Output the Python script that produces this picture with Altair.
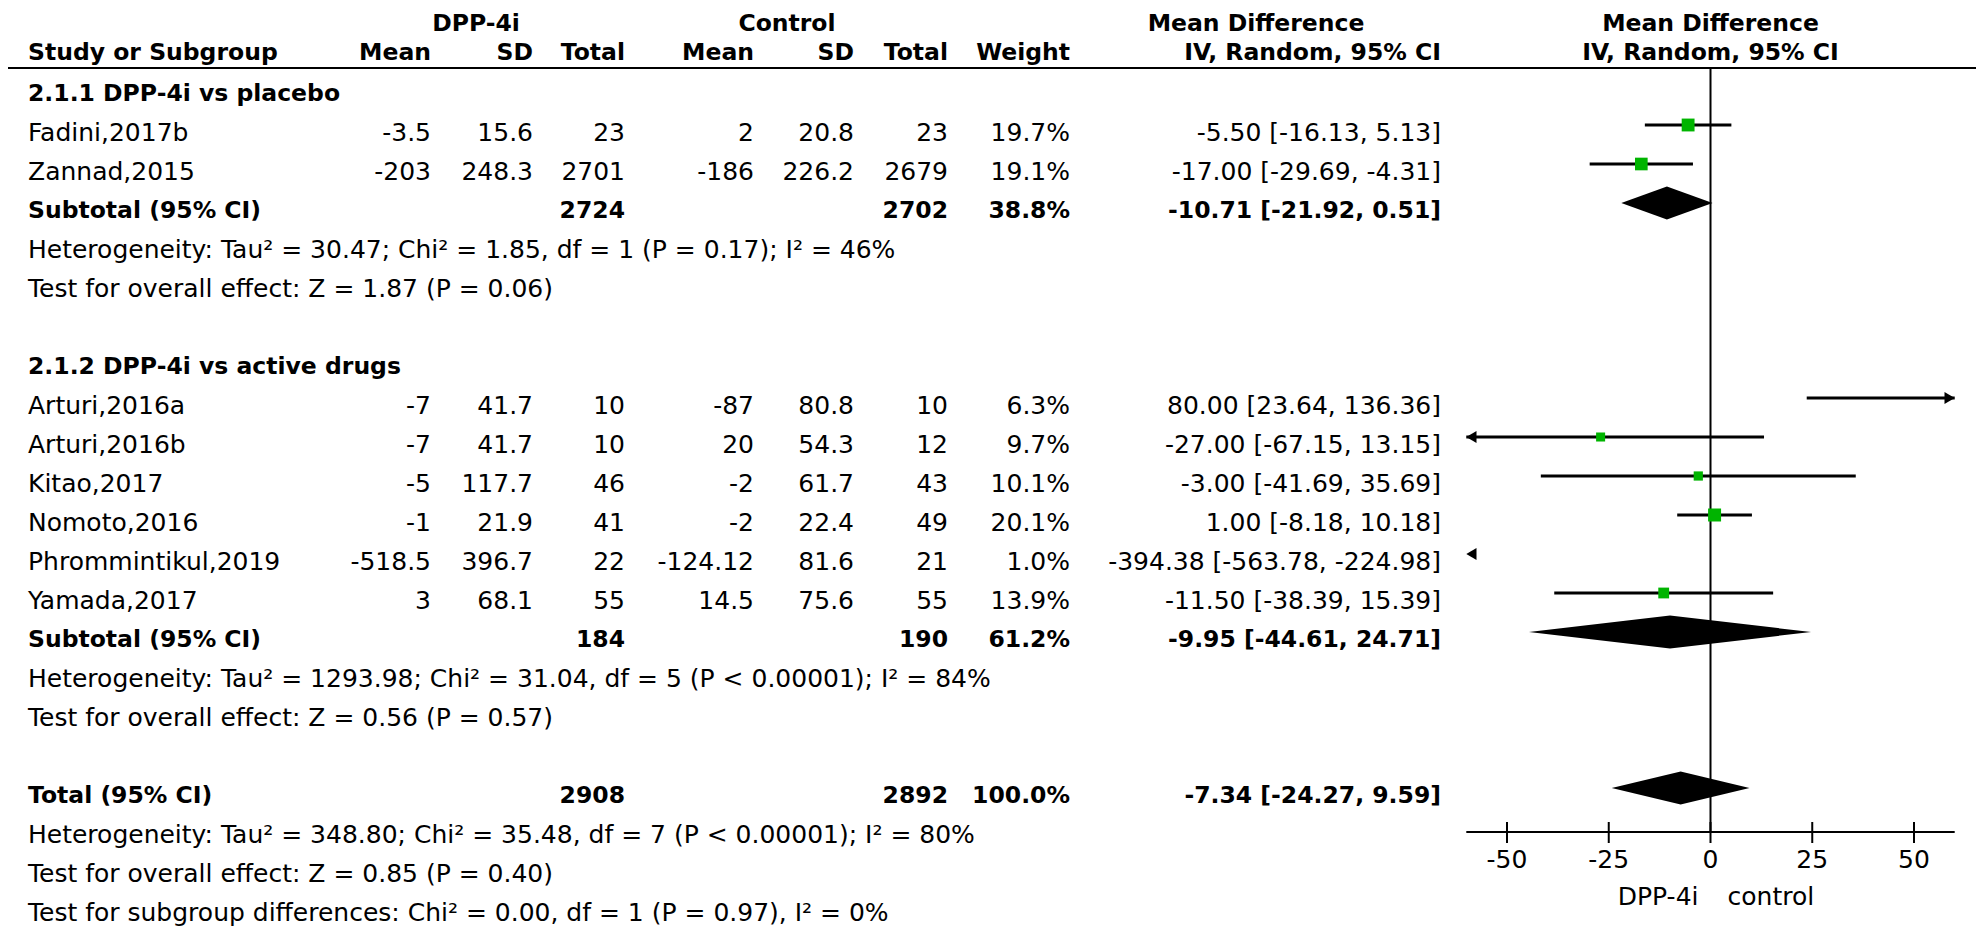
import altair as alt
import pandas as pd

# ---------------- data ----------------
studies = ["Fadini,2017b", "Zannad,2015", "Arturi,2016a", "Arturi,2016b",
           "Kitao,2017", "Nomoto,2016", "Phrommintikul,2019", "Yamada,2017"]
dpp_mean = [-3.5, -203, -7, -7, -5, -1, -518.5, 3]
dpp_sd = [15.6, 248.3, 41.7, 41.7, 117.7, 21.9, 396.7, 68.1]
dpp_n = [23, 2701, 10, 10, 46, 41, 22, 55]
ctl_mean = [2, -186, -87, 20, -2, -2, -124.12, 14.5]
ctl_sd = [20.8, 226.2, 80.8, 54.3, 61.7, 22.4, 81.6, 75.6]
ctl_n = [23, 2679, 10, 12, 43, 49, 21, 55]
weights = [19.7, 19.1, 6.3, 9.7, 10.1, 20.1, 1.0, 13.9]
md = [-5.50, -17.00, 80.00, -27.00, -3.00, 1.00, -394.38, -11.50]
ci_lo = [-16.13, -29.69, 23.64, -67.15, -41.69, -8.18, -563.78, -38.39]
ci_hi = [5.13, -4.31, 136.36, 13.15, 35.69, 10.18, -224.98, 15.39]
study_rows = [1, 2, 8, 9, 10, 11, 12, 13]

pooled_labels = ["Subtotal (95% CI)", "Subtotal (95% CI)", "Total (95% CI)"]
pooled_n1 = [2724, 184, 2908]
pooled_n2 = [2702, 190, 2892]
pooled_w = [38.8, 61.2, 100.0]
pooled_md = [-10.71, -9.95, -7.34]
pooled_lo = [-21.92, -44.61, -24.27]
pooled_hi = [0.51, 24.71, 9.59]
pooled_rows = [3, 14, 18]

group_labels = ["2.1.1 DPP-4i vs placebo", "2.1.2 DPP-4i vs active drugs"]
group_rows = [0, 7]

notes = [
    "Heterogeneity: Tau² = 30.47; Chi² = 1.85, df = 1 (P = 0.17); I² = 46%",
    "Test for overall effect: Z = 1.87 (P = 0.06)",
    "Heterogeneity: Tau² = 1293.98; Chi² = 31.04, df = 5 (P < 0.00001); I² = 84%",
    "Test for overall effect: Z = 0.56 (P = 0.57)",
    "Heterogeneity: Tau² = 348.80; Chi² = 35.48, df = 7 (P < 0.00001); I² = 80%",
    "Test for overall effect: Z = 0.85 (P = 0.40)",
    "Test for subgroup differences: Chi² = 0.00, df = 1 (P = 0.97), I² = 0%",
]
note_rows = [4, 5, 15, 16, 19, 20, 21]

header_groups = ["DPP-4i", "Control", "Mean Difference", "Mean Difference"]
header_cols = ["Study or Subgroup", "Mean", "SD", "Total", "Mean", "SD", "Total",
               "Weight", "IV, Random, 95% CI", "IV, Random, 95% CI"]

axis_ticks = [-50, -25, 0, 25, 50]
axis_limits = [-60, 60]
favours = ["DPP-4i", "control"]

# ---------------- layout ----------------
W, H = 1968, 922
FONT = "DejaVu Sans"
ROW_PX = 39.0           # pixels per row
ROW0_PX = 78            # plot y of row 0 (forest marks)
ZERO_PX = 1702.5        # plot x of MD = 0
PX_PER_UNIT = 4.07
GREEN = "#00b400"

YS = alt.Scale(domain=[-ROW0_PX / ROW_PX, (H - ROW0_PX) / ROW_PX],
               reverse=True, nice=False, zero=False)
XS = alt.Scale(domain=[-ZERO_PX / PX_PER_UNIT, (W - ZERO_PX) / PX_PER_UNIT],
               nice=False, zero=False)


def g(v):
    return f"{v:g}"


def ci(m, l, h):
    return f"{m:.2f} [{l:.2f}, {h:.2f}]"


df_st = pd.DataFrame({
    "row": study_rows, "study": studies,
    "m1": [g(v) for v in dpp_mean], "sd1": [g(v) for v in dpp_sd], "n1": [str(v) for v in dpp_n],
    "m2": [g(v) for v in ctl_mean], "sd2": [g(v) for v in ctl_sd], "n2": [str(v) for v in ctl_n],
    "w": weights, "wt": [f"{v:.1f}%" for v in weights],
    "md": md, "lo": ci_lo, "hi": ci_hi,
    "ci": [ci(a, b, c) for a, b, c in zip(md, ci_lo, ci_hi)],
})
df_st["lo_c"] = df_st["lo"].clip(lower=axis_limits[0], upper=axis_limits[1])
df_st["hi_c"] = df_st["hi"].clip(lower=axis_limits[0], upper=axis_limits[1])

df_pool = pd.DataFrame({
    "row": pooled_rows, "label": pooled_labels,
    "n1": [str(v) for v in pooled_n1], "n2": [str(v) for v in pooled_n2],
    "wt": [f"{v:.1f}%" for v in pooled_w],
    "ci": [ci(a, b, c) for a, b, c in zip(pooled_md, pooled_lo, pooled_hi)],
})
df_grp = pd.DataFrame({"row": group_rows, "label": group_labels})
df_notes = pd.DataFrame({"row": note_rows, "label": notes})

HDR1 = (8 - ROW0_PX) / ROW_PX
HDR2 = (37 - ROW0_PX) / ROW_PX
df_h1 = pd.DataFrame({"row": [HDR1] * 4, "label": header_groups})
df_h2 = pd.DataFrame({"row": [HDR2] * len(header_cols), "label": header_cols})


def txt(df, field, xpx, align, bold=False):
    return alt.Chart(df).mark_text(
        align=align, baseline="middle", dy=8, font=FONT,
        fontSize=23.5 if bold else 25, fontWeight="bold" if bold else "normal",
        color="black",
    ).encode(
        x=alt.value(xpx),
        y=alt.Y("row:Q", scale=YS, axis=None),
        text=alt.Text(f"{field}:N"),
    )


layers = []

# headers
h1_pos = [(468, "center"), (779, "center"), (1248, "center"), (ZERO_PX, "center")]
for i, (xp, al) in enumerate(h1_pos):
    layers.append(txt(df_h1.iloc[[i]], "label", xp, al, bold=True))
h2_pos = [(20, "left"), (423, "right"), (525, "right"), (617, "right"), (746, "right"),
          (846, "right"), (940, "right"), (1062, "right"), (1433, "right"), (ZERO_PX, "center")]
for i, (xp, al) in enumerate(h2_pos):
    layers.append(txt(df_h2.iloc[[i]], "label", xp, al, bold=True))

# group labels and notes
layers.append(txt(df_grp, "label", 20, "left", bold=True))
layers.append(txt(df_notes, "label", 20, "left"))

# study rows
for field, xp, al in [("study", 20, "left"), ("m1", 423, "right"), ("sd1", 525, "right"),
                      ("n1", 617, "right"), ("m2", 746, "right"), ("sd2", 846, "right"),
                      ("n2", 940, "right"), ("wt", 1062, "right"), ("ci", 1433, "right")]:
    layers.append(txt(df_st, field, xp, al))

# pooled rows
for field, xp, al in [("label", 20, "left"), ("n1", 617, "right"), ("n2", 940, "right"),
                      ("wt", 1062, "right"), ("ci", 1433, "right")]:
    layers.append(txt(df_pool, field, xp, al, bold=True))

# header separator line
layers.append(alt.Chart(pd.DataFrame({"k": [0]})).mark_rule(color="black", strokeWidth=2).encode(
    x=alt.value(0), x2=alt.value(W), y=alt.value(60)))

# zero line
layers.append(alt.Chart(pd.DataFrame({"z": [0]})).mark_rule(color="black", strokeWidth=2).encode(
    x=alt.X("z:Q", scale=XS, axis=None), y=alt.value(60), y2=alt.value(824)))

# CI lines
df_ci = df_st[df_st["lo_c"] < df_st["hi_c"]]
layers.append(alt.Chart(df_ci).mark_rule(color="black", strokeWidth=3).encode(
    x=alt.X("lo_c:Q", scale=XS, axis=None), x2="hi_c:Q",
    y=alt.Y("row:Q", scale=YS, axis=None)))

# arrows for clipped CIs
df_left = df_st[df_st["lo"] < axis_limits[0]].assign(ax=axis_limits[0])
df_right = df_st[df_st["hi"] > axis_limits[1]].assign(ax=axis_limits[1])
layers.append(alt.Chart(df_left).mark_point(
    shape="M-1,0L0.7,-1L0.7,1Z", filled=True, size=144, color="black", opacity=1, xOffset=6
).encode(x=alt.X("ax:Q", scale=XS, axis=None), y=alt.Y("row:Q", scale=YS, axis=None)))
layers.append(alt.Chart(df_right).mark_point(
    shape="M1,0L-0.7,-1L-0.7,1Z", filled=True, size=144, color="black", opacity=1, xOffset=-6
).encode(x=alt.X("ax:Q", scale=XS, axis=None), y=alt.Y("row:Q", scale=YS, axis=None)))

# squares
df_sq = df_st[(df_st["md"] >= axis_limits[0]) & (df_st["md"] <= axis_limits[1])]
layers.append(alt.Chart(df_sq).mark_square(color=GREEN, opacity=1, strokeWidth=0).encode(
    x=alt.X("md:Q", scale=XS, axis=None),
    y=alt.Y("row:Q", scale=YS, axis=None),
    size=alt.Size("w:Q", scale=alt.Scale(domain=[0, 20], range=[0, 168]), legend=None)))

# diamonds
HALF = 16.5 / ROW_PX
drows = []
for i, (r, m, l, h) in enumerate(zip(pooled_rows, pooled_md, pooled_lo, pooled_hi)):
    drows += [
        {"id": i, "x": l, "y1": r, "y2": r},
        {"id": i, "x": m, "y1": r - HALF, "y2": r + HALF},
        {"id": i, "x": h, "y1": r, "y2": r},
    ]
df_dia = pd.DataFrame(drows)
layers.append(alt.Chart(df_dia).mark_area(color="black", opacity=1).encode(
    x=alt.X("x:Q", scale=XS, axis=None),
    y=alt.Y("y1:Q", scale=YS, axis=None), y2="y2:Q",
    detail="id:N"))

# bottom axis
df_axis = pd.DataFrame({"a": [axis_limits[0]], "b": [axis_limits[1]]})
layers.append(alt.Chart(df_axis).mark_rule(color="black", strokeWidth=2).encode(
    x=alt.X("a:Q", scale=XS, axis=None), x2="b:Q", y=alt.value(824)))
df_ticks = pd.DataFrame({"t": axis_ticks, "lab": [str(t) for t in axis_ticks]})
layers.append(alt.Chart(df_ticks).mark_rule(color="black", strokeWidth=2).encode(
    x=alt.X("t:Q", scale=XS, axis=None), y=alt.value(814), y2=alt.value(835)))
layers.append(alt.Chart(df_ticks).mark_text(
    font=FONT, fontSize=25, color="black", baseline="middle", align="center").encode(
    x=alt.X("t:Q", scale=XS, axis=None), y=alt.value(852), text="lab:N"))
df_fav = pd.DataFrame({"lab": favours})
layers.append(alt.Chart(df_fav.iloc[[0]]).mark_text(
    font=FONT, fontSize=25, color="black", baseline="middle", align="right").encode(
    x=alt.value(ZERO_PX - 12), y=alt.value(889), text="lab:N"))
layers.append(alt.Chart(df_fav.iloc[[1]]).mark_text(
    font=FONT, fontSize=25, color="black", baseline="middle", align="left").encode(
    x=alt.value(ZERO_PX + 17), y=alt.value(889), text="lab:N"))

chart = alt.layer(*layers).properties(
    width=W, height=H, padding=0,
    autosize=alt.AutoSizeParams(type="none"),
    background="white",
).configure_view(stroke=None)

chart.save("out.html", embed_options={"renderer": "svg", "actions": False})
